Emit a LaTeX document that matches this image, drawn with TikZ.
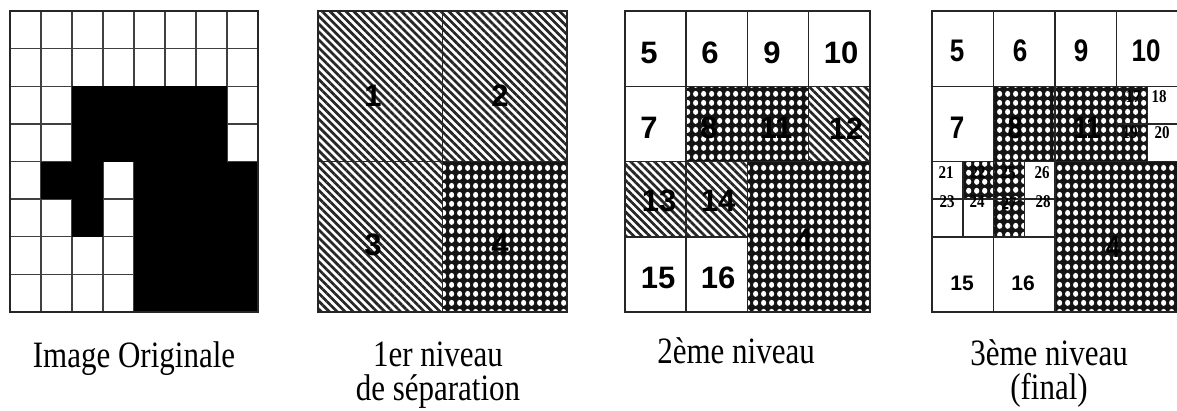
\documentclass[tikz,border=0pt]{standalone}
\usepackage{graphicx}
\usepackage{fontspec}
\setmainfont{Liberation Serif}
\newfontfamily\sansf{Liberation Sans}
\usetikzlibrary{patterns,patterns.meta}
\pgfdeclarepatternformonly{qdots}{\pgfpointorigin}{\pgfpoint{7.6pt}{8.6pt}}{\pgfpoint{7.6pt}{8.6pt}}{%
  \pgfpathellipse{\pgfpoint{3.8pt}{4.3pt}}{\pgfpoint{2.7pt}{0pt}}{\pgfpoint{0pt}{3.1pt}}%
  \pgfusepath{fill}%
}
\newcommand\vs[1]{\scalebox{1}[1.2]{#1}}
\tikzset{
  cellbox/.style={draw=black!85, line width=1.5pt},
  gridone/.style={draw=black!75, line width=1.4pt},
  hatchfill/.style={pattern={Lines[angle=-45,distance=5.6pt,line width=2.7pt]}, pattern color=black!85},
  fullfill/.style={fill=black!92, postaction={pattern=qdots, pattern color=white}},
  lbl/.style={inner sep=0pt, font=\sansf\bfseries\fontsize{31}{31}\selectfont},
  lblb/.style={inner sep=0pt, font=\sansf\bfseries\fontsize{26}{26}\selectfont},
  lbls/.style={inner sep=0pt, font=\sansf\bfseries\fontsize{21}{21}\selectfont},
  lbltiny/.style={inner sep=0pt, font=\bfseries\fontsize{15}{15}\selectfont},
  captxt/.style={anchor=base, inner sep=0pt, align=center, font=\fontsize{31}{24}\selectfont},
}
\begin{document}
\begin{tikzpicture}[x=1pt,y=-1pt]
\useasboundingbox[fill=white] (0,0) rectangle (1177,410);

% ---------- Panel 1: original image ----------
\begin{scope}[shift={(10pt,-11pt)}, x=31pt, y=-37.625pt]
  \foreach \i in {1,...,7} {
    \draw[gridone] (\i,0) -- (\i,8);
    \draw[gridone] (0,\i) -- (8,\i);
  }
  \fill[black] (2,2) rectangle (7,4);
  \fill[black] (1,4) rectangle (3,5);
  \fill[black] (2,5) rectangle (3,6);
  \fill[black] (4,4) rectangle (8,8);
  \draw[cellbox] (0,0) rectangle (8,8);
\end{scope}

% ---------- Panel 2: first level ----------
\begin{scope}[shift={(318pt,-11pt)}, x=31.1pt, y=-37.625pt]
  \fill[hatchfill] (0,0) rectangle (4,4);
  \fill[hatchfill] (4,0) rectangle (8,4);
  \fill[hatchfill] (0,4) rectangle (4,8);
  \fill[fullfill] (4,4) rectangle (8,8);
  \draw[cellbox] (0,0) rectangle (8,8);
  \draw[cellbox] (4,0) -- (4,8);
  \draw[cellbox] (0,4) -- (8,4);
\end{scope}

% ---------- Panel 3: second level ----------
\begin{scope}[shift={(625pt,-11pt)}, x=30.6pt, y=-37.625pt]
  \fill[hatchfill] (6,2) rectangle (8,4);
  \fill[hatchfill] (0,4) rectangle (2,6);
  \fill[hatchfill] (2,4) rectangle (4,6);
  \fill[fullfill] (2,2) rectangle (6,4);
  \fill[fullfill] (4,4) rectangle (8,8);
  \draw[cellbox] (0,0) rectangle (8,8);
  \draw[cellbox] (0,2) -- (8,2);
  \draw[cellbox] (0,4) -- (8,4);
  \draw[cellbox] (0,6) -- (4,6);
  \draw[cellbox] (2,0) -- (2,8);
  \draw[cellbox] (4,0) -- (4,8);
  \draw[cellbox] (6,0) -- (6,4);
\end{scope}

% ---------- Panel 4: third level ----------
\begin{scope}[shift={(932pt,-11pt)}, x=30.75pt, y=-37.625pt]
  \fill[fullfill] (2,2) rectangle (7,4);
  \fill[fullfill] (1,4) rectangle (2,5);
  \fill[fullfill] (2,4) rectangle (3,6);
  \fill[fullfill] (4,4) rectangle (8,8);
  \draw[cellbox] (0,0) rectangle (8,8);
  \draw[cellbox] (0,2) -- (8,2);
  \draw[cellbox] (0,4) -- (8,4);
  \draw[cellbox] (0,6) -- (4,6);
  \draw[cellbox] (2,0) -- (2,8);
  \draw[cellbox] (4,0) -- (4,8);
  \draw[cellbox] (6,0) -- (6,4);
  \draw[cellbox] (7,2) -- (7,4);
  \draw[cellbox] (6,3) -- (8,3);
  \draw[cellbox] (1,4) -- (1,6);
  \draw[cellbox] (3,4) -- (3,6);
  \draw[cellbox] (0,5) -- (4,5);
\end{scope}

% ---------- labels panel 2 ----------
\node[lbl] (a1) at (373,96) {1};
\node[lbl] (a2) at (500,96) {2};
\node[lbl] (a3) at (373,245) {3};
\node[lbl] (a4) at (500,245) {4};

% ---------- labels panel 3 ----------
\node[lbl] (b5)  at (649,53) {5};
\node[lbl] (b6)  at (710,53) {6};
\node[lbl] (b9)  at (772,53) {9};
\node[lbl] (b10) at (841,53) {10};
\node[lbl] (b7)  at (649,128) {7};
\node[lbl] (b8)  at (709,128) {8};
\node[lbl] (b11) at (776,128) {11};
\node[lbl] (b12) at (846,129) {12};
\node[lbl] (b13) at (659,201) {13};
\node[lbl] (b14) at (718,201) {14};
\node[lbl] (b4)  at (804,240) {4};
\node[lbl] (b15) at (658,278) {15};
\node[lbl] (b16) at (718,278) {16};

% ---------- labels panel 4 ----------
\node[lblb] (c5)  at (957,51) {\vs{5}};
\node[lblb] (c6)  at (1020,51) {\vs{6}};
\node[lblb] (c9)  at (1081,51) {\vs{9}};
\node[lblb] (c10) at (1146,51) {\vs{10}};
\node[lblb] (c7)  at (957,128) {\vs{7}};
\node[lblb] (c8)  at (1015,128) {\vs{8}};
\node[lblb] (c11) at (1087,128) {\vs{11}};
\node[lbltiny] (c17) at (1133,97) {\vs{17}};
\node[lbltiny] (c18) at (1159,97) {\vs{18}};
\node[lbltiny] (c19) at (1130,133) {\vs{19}};
\node[lbltiny] (c20) at (1162,133) {\vs{20}};
\node[lbltiny] (c21) at (946,173) {\vs{21}};
\node[lbltiny] (c22) at (978,173) {\vs{22}};
\node[lbltiny] (c25) at (1008,173) {\vs{25}};
\node[lbltiny] (c26) at (1042,173) {\vs{26}};
\node[lbltiny] (c23) at (947,202) {\vs{23}};
\node[lbltiny] (c24) at (977,202) {\vs{24}};
\node[lbltiny] (c27) at (1009,204) {\vs{27}};
\node[lbltiny] (c28) at (1043,202) {\vs{28}};
\node[lblb] (c4)  at (1113,247) {\vs{4}};
\node[lbls] (c15) at (962,283) {15};
\node[lbls] (c16) at (1023,283) {16};

% ---------- captions ----------
\node[captxt] (t1) at (134,367) {\vs{Image Originale}};
\node[captxt] (t2) at (438,366) {\vs{\begin{tabular}[t]{@{}c@{}}1er niveau\\de séparation\end{tabular}}};
\node[captxt] (t3) at (736,363) {\vs{2ème niveau}};
\node[captxt] (t4) at (1049,365) {\vs{\begin{tabular}[t]{@{}c@{}}3ème niveau\\(final)\end{tabular}}};
\end{tikzpicture}
\end{document}
